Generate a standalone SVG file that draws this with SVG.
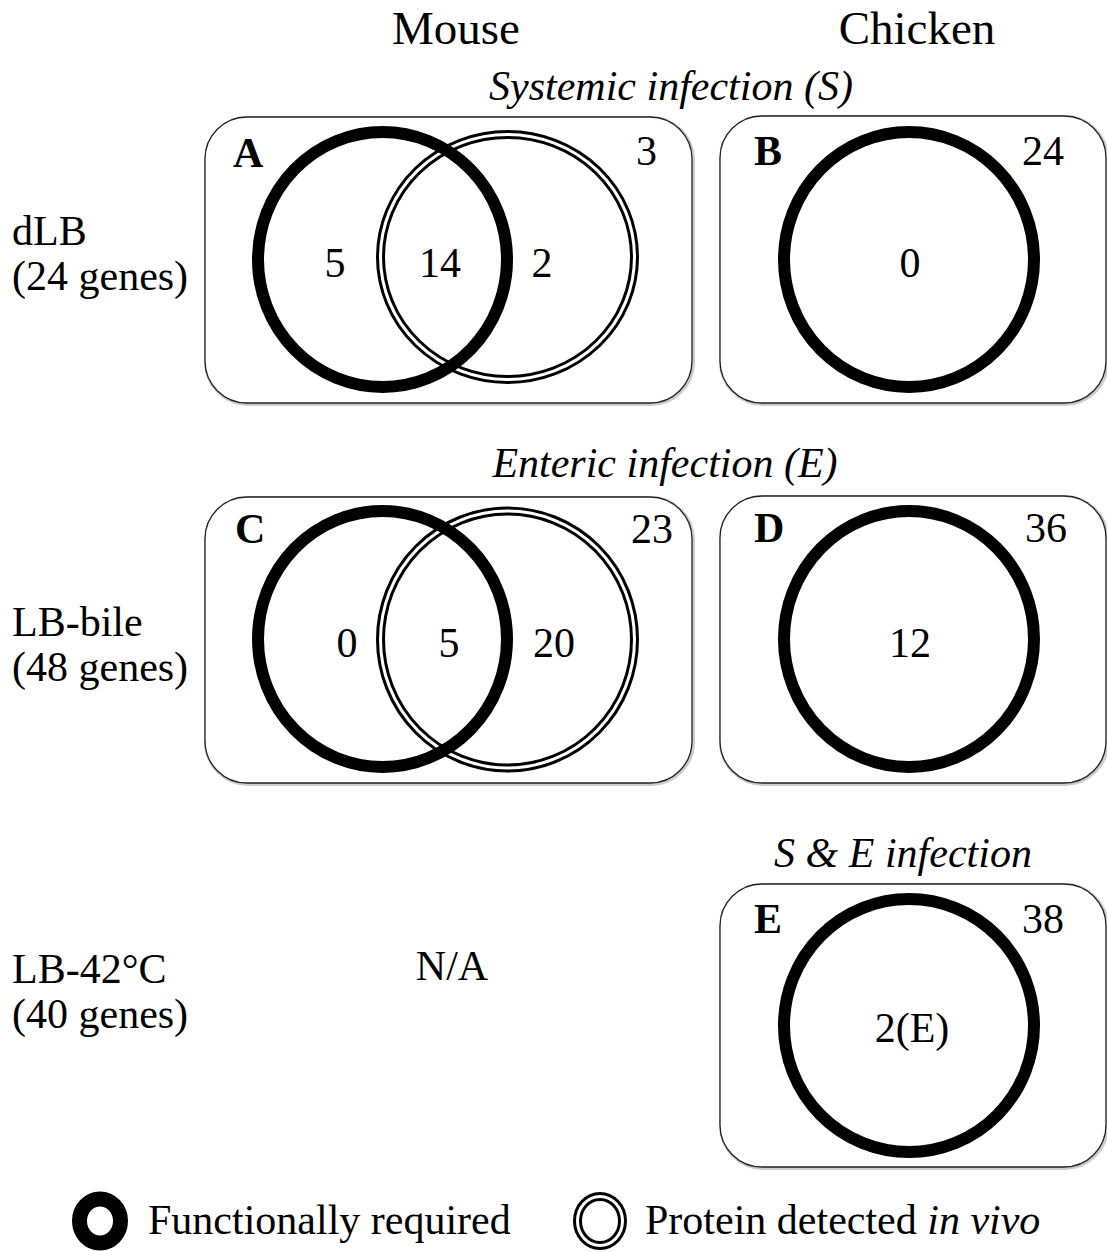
<svg xmlns="http://www.w3.org/2000/svg" width="1107" height="1252" viewBox="0 0 1107 1252">
<style>
text{font-family:"Liberation Serif","Times New Roman",serif;fill:#000;font-size:42px}
.h{font-size:47px}
.it{font-style:italic}
.b{font-weight:bold}
.m{text-anchor:middle}
.box{fill:#fff;stroke:#222;stroke-width:1.3}
.sh{fill:none;stroke:#ccc;stroke-width:4}
.thick{fill:none;stroke:#000;stroke-width:12}
.dbl{fill:none;stroke:#000;stroke-width:3}
</style>
<rect width="1107" height="1252" fill="#fff"/>
<g id="headers">
<text class="h m" x="456" y="44">Mouse</text>
<text class="h m" x="917" y="44">Chicken</text>
<text class="it m" x="671" y="100">Systemic infection (S)</text>
<text class="it m" x="665" y="477">Enteric infection (E)</text>
<text class="it m" x="903" y="867">S &amp; E infection</text>
</g>
<g id="row-labels">
<text x="12" y="245">dLB</text>
<text x="12" y="290">(24 genes)</text>
<text x="12" y="636">LB-bile</text>
<text x="12" y="681">(48 genes)</text>
<text x="12" y="983">LB-42°C</text>
<text x="12" y="1028">(40 genes)</text>
<text class="m" x="452" y="980">N/A</text>
</g>
<g id="panel-A">
<rect class="sh" x="206" y="118" width="487" height="286" rx="42"/>
<rect class="box" x="205" y="117" width="487" height="286" rx="42"/>
<ellipse class="thick" cx="382.5" cy="259.5" rx="124.5" ry="127.5"/>
<ellipse class="dbl" cx="507.5" cy="257" rx="130" ry="125.5"/>
<ellipse class="dbl" cx="507.5" cy="257" rx="124" ry="119.5"/>
<text class="b" x="233" y="167">A</text>
<text x="636" y="165">3</text>
<text class="m" x="335" y="277">5</text>
<text class="m" x="440" y="277">14</text>
<text class="m" x="542" y="277">2</text>
</g>
<g id="panel-B">
<rect class="sh" x="721" y="117" width="386" height="287" rx="42"/>
<rect class="box" x="720" y="116" width="386" height="287" rx="42"/>
<ellipse class="thick" cx="909" cy="259.5" rx="125" ry="127.5"/>
<text class="b" x="754" y="165">B</text>
<text x="1022" y="165">24</text>
<text class="m" x="910" y="277">0</text>
</g>
<g id="panel-C">
<rect class="sh" x="206" y="498" width="487" height="286" rx="42"/>
<rect class="box" x="205" y="497" width="487" height="286" rx="42"/>
<ellipse class="thick" cx="382.5" cy="639" rx="124.5" ry="128"/>
<ellipse class="dbl" cx="507.5" cy="639.5" rx="130" ry="131.5"/>
<ellipse class="dbl" cx="507.5" cy="639.5" rx="124" ry="125.5"/>
<text class="b" x="235" y="543">C</text>
<text x="631" y="543">23</text>
<text class="m" x="347" y="657">0</text>
<text class="m" x="449" y="657">5</text>
<text class="m" x="554" y="657">20</text>
</g>
<g id="panel-D">
<rect class="sh" x="721" y="497" width="386" height="287" rx="42"/>
<rect class="box" x="720" y="496" width="386" height="287" rx="42"/>
<ellipse class="thick" cx="909" cy="639" rx="125" ry="128"/>
<text class="b" x="754" y="542">D</text>
<text x="1025" y="542">36</text>
<text class="m" x="910" y="657">12</text>
</g>
<g id="panel-E">
<rect class="sh" x="721" y="885" width="386" height="283" rx="42"/>
<rect class="box" x="720" y="884" width="386" height="283" rx="42"/>
<ellipse class="thick" cx="909" cy="1025.5" rx="125" ry="126.5"/>
<text class="b" x="754" y="933">E</text>
<text x="1022" y="933">38</text>
<text class="m" x="912" y="1042">2(E)</text>
</g>
<g id="legend">
<ellipse cx="100" cy="1221" rx="20.5" ry="22" fill="none" stroke="#000" stroke-width="15"/>
<text x="148" y="1234">Functionally required</text>
<ellipse class="dbl" cx="600" cy="1221" rx="25.5" ry="27.5"/>
<ellipse class="dbl" cx="600" cy="1221" rx="19.5" ry="21.5"/>
<text x="645" y="1234">Protein detected <tspan class="it">in vivo</tspan></text>
</g>
</svg>
